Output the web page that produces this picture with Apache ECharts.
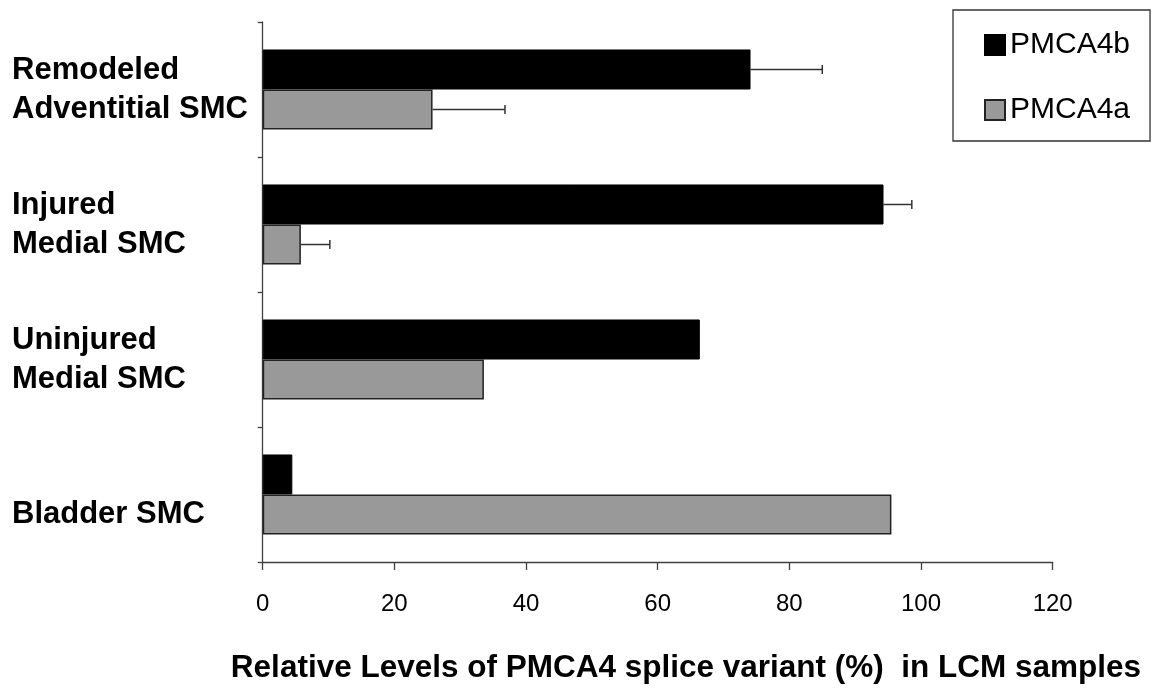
<!DOCTYPE html>
<html>
<head>
<meta charset="utf-8">
<script src="https://cdn.jsdelivr.net/npm/echarts@6/dist/echarts.min.js"></script>
<style>
  html, body { margin: 0; padding: 0; background: #fff; }
  #chart { width: 1154px; height: 690px; }
</style>
</head>
<body>
<div id="chart"></div>
<script>
// ---- data ----
const categories = ['Remodeled\nAdventitial SMC', 'Injured\nMedial SMC', 'Uninjured\nMedial SMC', 'Bladder SMC'];
const pmca4b = [74.1, 94.3, 66.4, 4.5];
const pmca4a = [25.8, 5.8, 33.6, 95.5];
const err4b = [10.9, 4.3, null, null];
const err4a = [11.0, 4.4, null, null];
const xTicks = [0, 20, 40, 60, 80, 100, 120];
const seriesNames = ['PMCA4b', 'PMCA4a'];
const xTitle = 'Relative Levels of PMCA4 splice variant (%)  in LCM samples';

const FONT = '"Liberation Sans", Arial, sans-serif';
const GAP = 0.407; // barCategoryGap fraction

// error bar data: [mean, categoryIndex, err, seriesIndex]
const errData = [];
categories.forEach((c, i) => {
  if (err4b[i] != null) errData.push([pmca4b[i], i, err4b[i], 0]);
  if (err4a[i] != null) errData.push([pmca4a[i], i, err4a[i], 1]);
});

const chart = echarts.init(document.getElementById('chart'), null, { renderer: 'canvas' });
chart.setOption({
  animation: false,
  backgroundColor: '#ffffff',
  grid: { left: 262.7, right: 101.3, top: 22, bottom: 128, containLabel: false },
  legend: {
    orient: 'vertical',
    left: 953, top: 10,
    padding: [20, 20, 16, 31],
    itemGap: 35,
    itemWidth: 20, itemHeight: 20,
    itemTextGap: 10,
    icon: 'rect',
    borderColor: '#333', borderWidth: 1.3,
    textStyle: { fontFamily: FONT, fontSize: 30, color: '#000', lineHeight: 30 },
    data: seriesNames
  },
  xAxis: {
    type: 'value', min: xTicks[0], max: xTicks[xTicks.length - 1], interval: 20,
    splitLine: { show: false },
    axisLine: { show: true, lineStyle: { color: '#404040', width: 1.3 } },
    axisTick: { show: true, length: 8, lineStyle: { color: '#404040', width: 1.3 } },
    axisLabel: { fontFamily: FONT, fontSize: 24, color: '#000', margin: 30 }
  },
  yAxis: {
    type: 'category', data: categories, inverse: true,
    axisLine: { show: true, lineStyle: { color: '#404040', width: 1.3 } },
    axisTick: { show: true, length: 5, lineStyle: { color: '#404040', width: 1.3 } },
    axisLabel: {
      fontFamily: FONT, fontSize: 31, fontWeight: 'bold', color: '#000',
      align: 'left', margin: 250.7, lineHeight: 39,
      formatter: v => v.indexOf('\n') >= 0 ? v : '\n' + v
    }
  },
  series: [
    {
      name: seriesNames[0], type: 'bar', data: pmca4b,
      barCategoryGap: (GAP * 100) + '%', barGap: '0%',
      itemStyle: { color: '#000000', borderColor: '#000', borderWidth: 1 }
    },
    {
      name: seriesNames[1], type: 'bar', data: pmca4a,
      barCategoryGap: (GAP * 100) + '%', barGap: '0%',
      itemStyle: { color: '#999999', borderColor: '#222', borderWidth: 1.5 }
    },
    {
      type: 'custom', name: 'err', silent: true, z: 5,
      encode: { x: 0, y: 1 },
      data: errData,
      renderItem: function (params, api) {
        const mean = api.value(0), cat = api.value(1), err = api.value(2), s = api.value(3);
        const c0 = api.coord([mean, cat]);
        const c1 = api.coord([mean + err, cat]);
        const bandH = api.size([0, 1])[1];
        const barH = bandH * (1 - GAP) / 2;
        const y = c0[1] + (s === 0 ? -barH / 2 : barH / 2);
        const style = { stroke: '#333', lineWidth: 1.5 };
        return {
          type: 'group',
          children: [
            { type: 'line', shape: { x1: c0[0], y1: y, x2: c1[0], y2: y }, style: style },
            { type: 'line', shape: { x1: c1[0], y1: y - 4.5, x2: c1[0], y2: y + 4.5 }, style: style }
          ]
        };
      }
    }
  ],
  graphic: [
    {
      type: 'text', x: 686, y: 668,
      style: {
        text: xTitle, fontFamily: FONT, fontSize: 31.5, fontWeight: 'bold', fill: '#000',
        textAlign: 'center', textVerticalAlign: 'middle'
      }
    }
  ]
});
</script>
</body>
</html>
